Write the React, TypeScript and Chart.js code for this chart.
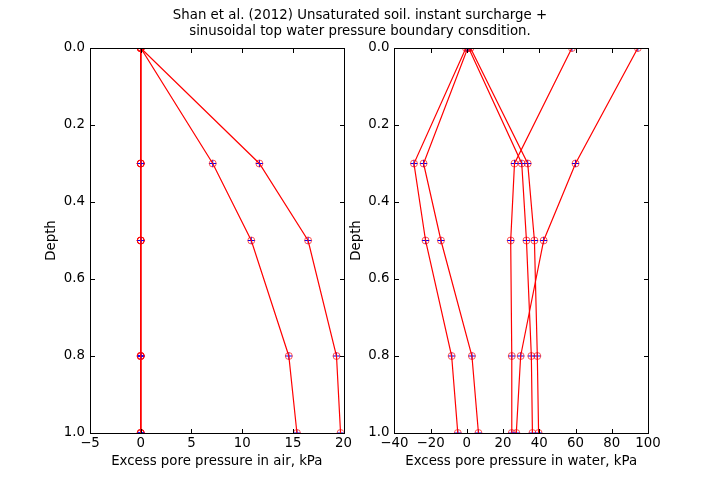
import React, { useEffect, useRef } from "react";
import { Chart, registerables } from "chart.js";
Chart.register(...registerables);

// ---- data ----
const depths = [0, 0.3, 0.5, 0.8, 1.0];

const air1 = [0, 0, 0, 0, 0];
const air2 = [0, 0, 0, 0, 0];
const air3 = [0, 0, 0, 0, 0];
const air4 = [0, 0, 0, 0, 0];
const air5 = [0, 7.1, 10.9, 14.6, 15.4];
const air6 = [0, 11.7, 16.5, 19.3, 19.7];

const water1 = [-0.5, -29.2, -22.8, -8.4, -5.0];
const water2 = [0.5, -23.9, -14.3, 2.8, 6.4];
const water3 = [58.0, 26.3, 24.2, 24.8, 24.8];
const water4 = [1.0, 30.3, 32.9, 35.6, 36.2];
const water5 = [2.0, 33.6, 37.3, 38.9, 39.6];
const water6 = [94.4, 60.0, 42.4, 29.7, 27.3];

const airSeries = [air1, air2, air3, air4, air5, air6];
const waterSeries = [water1, water2, water3, water4, water5, water6];

const depthRange = [0, 1];
const depthStep = 0.2;
const airRange = [-5, 20];
const airStep = 5;
const waterRange = [-40, 100];
const waterStep = 20;

const titleLines = [
  "Shan et al. (2012) Unsaturated soil. instant surcharge +",
  "sinusoidal top water pressure boundary consdition.",
];
const airLabel = "Excess pore pressure in air, kPa";
const waterLabel = "Excess pore pressure in water, kPa";
const depthLabel = "Depth";

// ---- styling ----
const FONT = "DejaVu Sans";
const FS = 13.33;

const framePlugin = {
  id: "mplFrame",
  afterDraw(chart: any) {
    const { ctx, chartArea: a, scales } = chart;
    const xs = scales.x;
    const ys = scales.y;
    const L = Math.round(a.left) + 0.5;
    const R = Math.round(a.right) + 0.5;
    const T = Math.round(a.top) + 0.5;
    const B = Math.round(a.bottom) + 0.5;
    const len = 4.5;
    ctx.save();
    ctx.strokeStyle = "#000";
    ctx.lineWidth = 1;
    ctx.beginPath();
    for (const t of xs.ticks) {
      const px = Math.round(xs.getPixelForValue(t.value)) + 0.5;
      ctx.moveTo(px, B);
      ctx.lineTo(px, B - len);
      ctx.moveTo(px, T);
      ctx.lineTo(px, T + len);
    }
    for (const t of ys.ticks) {
      const py = Math.round(ys.getPixelForValue(t.value)) + 0.5;
      ctx.moveTo(L, py);
      ctx.lineTo(L + len, py);
      ctx.moveTo(R, py);
      ctx.lineTo(R - len, py);
    }
    ctx.stroke();
    ctx.strokeRect(L, T, R - L, B - T);
    ctx.restore();
  },
};

function fmtMinus(v: number) {
  const s = String(Math.round(v));
  return s.replace("-", "\u2212");
}

type PanelProps = {
  series: number[][];
  xRange: number[];
  xStep: number;
  xLabel: string;
  left: number;
  width: number;
  pad: { left: number; right: number; top: number; bottom: number };
  yWidth: number;
};

function Panel(props: PanelProps) {
  const ref = useRef<HTMLCanvasElement | null>(null);
  useEffect(() => {
    if (!ref.current) return;
    const datasets: any[] = [];
    props.series.forEach((s) => {
      const pts = s.map((v, i) => ({ x: v, y: depths[i] }));
      datasets.push({
        data: pts,
        showLine: true,
        borderColor: "#ff0000",
        borderWidth: 1.2,
        pointStyle: "circle",
        pointRadius: 3.5,
        pointBorderWidth: 1,
        pointBackgroundColor: "rgba(0,0,0,0)",
        pointBorderColor: "rgba(255,0,0,0.65)",
        clip: 0,
      });
      datasets.push({
        data: pts,
        showLine: false,
        pointStyle: "cross",
        pointRadius: 3.5,
        pointBorderWidth: 1,
        pointBorderColor: "#0000ff",
        pointBackgroundColor: "#0000ff",
        clip: 0,
      });
    });
    const chart = new Chart(ref.current, {
      type: "scatter",
      data: { datasets },
      options: {
        animation: false,
        responsive: false,
        devicePixelRatio: 1,
        layout: { padding: props.pad },
        plugins: { legend: { display: false }, tooltip: { enabled: false } },
        scales: {
          x: {
            type: "linear",
            position: "bottom",
            min: props.xRange[0],
            max: props.xRange[1],
            grid: { display: false, drawTicks: false },
            border: { display: false },
            ticks: {
              stepSize: props.xStep,
              color: "#000",
              font: { family: FONT, size: FS },
              padding: 3,
              maxRotation: 0,
              callback: (v: any) => fmtMinus(Number(v)),
            },
            title: {
              display: true,
              text: props.xLabel,
              color: "#000",
              font: { family: FONT, size: FS },
              padding: 0,
            },
            afterFit: (s: any) => {
              s.height = 37;
            },
          },
          y: {
            type: "linear",
            position: "left",
            min: depthRange[0],
            max: depthRange[1],
            reverse: true,
            grid: { display: false, drawTicks: false },
            border: { display: false },
            ticks: {
              stepSize: depthStep,
              color: "#000",
              font: { family: FONT, size: FS },
              padding: 5,
              callback: (v: any) => Number(v).toFixed(1),
            },
            title: {
              display: true,
              text: depthLabel,
              color: "#000",
              font: { family: FONT, size: FS },
              padding: 0,
            },
            afterFit: (s: any) => {
              s.width = props.yWidth;
            },
          },
        },
      },
      plugins: [framePlugin],
    } as any);
    return () => chart.destroy();
  }, []);
  return (
    <canvas
      ref={ref}
      width={props.width}
      height={480}
      style={{ position: "absolute", left: props.left, top: 0, width: props.width, height: 480 }}
    />
  );
}

export default function App() {
  return (
    <div
      style={{
        position: "absolute",
        left: 0,
        top: 0,
        width: 720,
        height: 480,
        background: "#fff",
        overflow: "hidden",
      }}
    >
      <Panel
        series={airSeries}
        xRange={airRange}
        xStep={airStep}
        xLabel={airLabel}
        left={0}
        width={360}
        pad={{ left: 44, right: 16.4, top: 48, bottom: 10 }}
        yWidth={46}
      />
      <Panel
        series={waterSeries}
        xRange={waterRange}
        xStep={waterStep}
        xLabel={waterLabel}
        left={340}
        width={380}
        pad={{ left: 9, right: 72, top: 48, bottom: 10 }}
        yWidth={45.4}
      />
      <div
        style={{
          position: "absolute",
          left: 0,
          top: 7,
          width: 720,
          textAlign: "center",
          fontFamily: FONT,
          fontSize: FS,
          lineHeight: "15.5px",
          color: "#000",
        }}
      >
        {titleLines.map((t, i) => (
          <div key={i}>{t}</div>
        ))}
      </div>
    </div>
  );
}
